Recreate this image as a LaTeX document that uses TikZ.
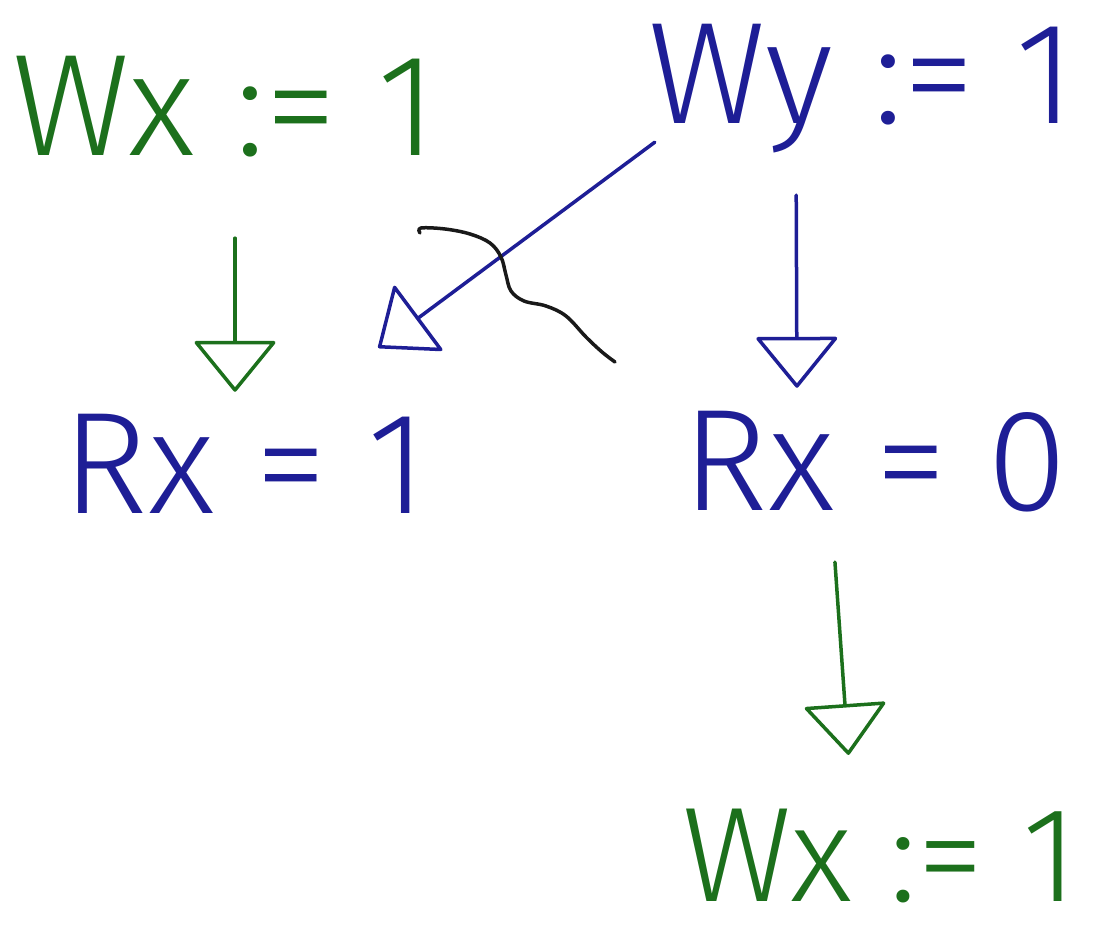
\documentclass[tikz,border=0pt]{standalone}
\usepackage{fontspec}
\setmainfont{Fira Sans Light}
\usetikzlibrary{arrows.meta}
\definecolor{hgreen}{RGB}{28,112,28}
\definecolor{hblue}{RGB}{30,30,150}
\definecolor{hblack}{RGB}{25,25,25}
\begin{document}
\begin{tikzpicture}[x=1pt,y=-1pt,
  lbl/.style={inner sep=0pt, text height=100pt, text depth=0pt, align=center,
    font=\fontsize{145}{145}\selectfont},
  head/.style={-{Triangle[open,round,length=52pt,width=84pt,line width=3.5pt]}},
  garrow/.style={hgreen, line width=3.5pt, line cap=round, head},
  barrow/.style={hblue, line width=3.5pt, line cap=round, head},
  cross/.style={hblack, line width=3.5pt, line cap=round, line join=round}
]
\useasboundingbox (0,0) rectangle (1106,939);

\node[lbl, text=hgreen, minimum width=420pt, minimum height=110pt] (wx1) at (225,106) {Wx := 1};
\node[lbl, text=hblue,  minimum width=470pt, minimum height=130pt] (wy)  at (862,74)  {Wy := 1};
\node[lbl, text=hblue,  minimum width=400pt, minimum height=120pt] (rx1) at (245,463) {Rx = 1};
\node[lbl, text=hblue,  minimum width=410pt, minimum height=120pt] (rx0) at (875,460) {Rx = 0};
\node[lbl, text=hgreen, text height=93pt, font=\fontsize{135}{135}\selectfont,
      minimum width=390pt, minimum height=100pt] (wx2) at (880,855) {Wx := 1};

% Wx:=1 -> Rx=1
\draw[garrow, shorten <=77pt, shorten >=11pt] ([xshift=10pt]wx1.south) -- ([xshift=-10pt]rx1.north);
% Wy:=1 -> Rx=1 (crossed out)
\draw[barrow] ([xshift=28pt,yshift=-3pt]wy.south west) -- ([xshift=-67pt,yshift=55pt]rx1.north east);
% Wy:=1 -> Rx=0
\draw[barrow, shorten <=56pt, shorten >=12pt] ([xshift=-66pt]wy.south) -- ([xshift=-78pt]rx0.north);
% Rx=0 -> Wx:=1
\draw[garrow, shorten <=42pt, shorten >=50pt] ([xshift=-43pt]rx0.south) -- ([xshift=-28pt]wx2.north);

% black strike-through squiggle
\draw[cross] plot[smooth, tension=0.6] coordinates {(420,233) (421,228) (445,229) (470,234) (490,243) (501,257) (506,275) (511,291) (524,301) (546,306) (566,316) (586,337) (602,352) (615,362)};
\end{tikzpicture}
\end{document}
